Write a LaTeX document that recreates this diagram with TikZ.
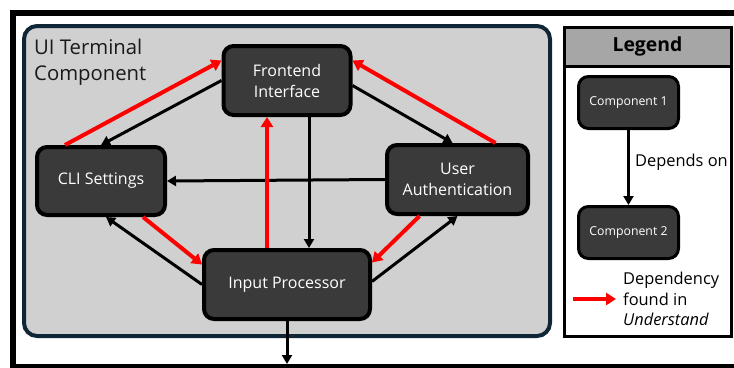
\documentclass[tikz,border=0pt]{standalone}
\usepackage{fontspec}
\setmainfont{Open Sans}
\usetikzlibrary{arrows.meta,positioning}

\definecolor{boxgray}{HTML}{3A3A3A}
\definecolor{panelgray}{HTML}{D0D0D0}
\definecolor{panelline}{HTML}{0F2636}
\definecolor{headgray}{HTML}{A6A6A6}
\definecolor{foundred}{HTML}{FF0000}

\tikzset{
  comp/.style={draw=black, line width=4pt, fill=boxgray, rounded corners=10pt,
    text=white, align=center, font=\fontsize{16}{21}\selectfont, inner sep=0pt, on grid},
  dep/.style={draw=black, line width=3pt, -{Triangle[length=9pt,width=10pt]}},
  found/.style={draw=foundred, line width=4pt, -{Triangle[length=10pt,width=12pt]}},
}

\begin{document}
\begin{tikzpicture}[x=1pt, y=-1pt]
      \useasboundingbox (0,0) rectangle (734,367);
      \clip (0,0) rectangle (734,367);
      \draw[line width=6pt] (12.5,12.5) rectangle (760,367);
      % component panel
      \draw[panelline, line width=4pt, fill=panelgray, rounded corners=13pt] (24,26) rectangle (550,336);
      \node[anchor=north west, align=left, inner sep=0pt, text=black!90,
        font=\fontsize{20.3}{26}\selectfont] (title) at (34,38.5) {UI Terminal\\Component};
      \node[comp, minimum width=166pt, minimum height=69pt] (ip) at (287,284.5) {Input Processor};
      \node[comp, minimum width=127pt, minimum height=69pt, above=204pt of ip] (fe) {Frontend\\Interface};
      \node[comp, minimum width=128pt, minimum height=68pt, above left=103.5pt and 186pt of ip] (cli) {CLI Settings};
      \node[comp, minimum width=141pt, minimum height=69pt, above right=105pt and 170.5pt of ip] (ua) {User\\Authentication};
      \coordinate (out) at (287,364);
      \draw[dep] (fe.west) -- (cli.north);
      \draw[found] ([xshift=-36pt]cli.north) -- ([yshift=20pt]fe.west);
      \draw[dep] ([yshift=-5pt]fe.east) -- ([xshift=-5pt]ua.north);
      \draw[found] ([xshift=38pt]ua.north) -- ([yshift=20pt]fe.east);
      \draw[dep] (ua.west) -- (cli.east);
      \draw[found] ([xshift=-20pt]ip.north) -- ([xshift=-20pt]fe.south);
      \draw[dep] ([xshift=22pt]fe.south) -- ([xshift=22pt]ip.north);
      \draw[found] ([xshift=42pt]cli.south) -- ([yshift=20pt]ip.west);
      \draw[dep] (ip.west) -- ([xshift=5pt]cli.south);
      \draw[found] ([xshift=-38pt]ua.south) -- ([yshift=22pt]ip.east);
      \draw[dep] ([yshift=3pt]ip.east) -- (ua.south);
      \draw[dep] (ip.south) -- (out);
      % legend
      \filldraw[fill=headgray, line width=3pt] (564,27) rectangle (731,66);
      \draw[line width=3pt] (564,27) rectangle (731,336);
      \node[font=\bfseries\fontsize{19.4}{23}\selectfont] (lgd) at (647.5,46.5) {Legend};
      \node[comp, minimum width=100pt, minimum height=52pt, line width=3pt,
        font=\fontsize{12.3}{15}\selectfont] (c1) at (628.5,102.5) {Component 1};
      \node[comp, minimum width=100pt, minimum height=52pt, line width=3pt,
        font=\fontsize{12.3}{15}\selectfont, below=130pt of c1] (c2) {Component 2};
      \draw[dep] (c1) -- (c2);
      \node[anchor=west, inner sep=0pt, font=\fontsize{16.4}{21}\selectfont] (dlab) at (635,162) {Depends on};
      \coordinate (r0) at (573,299);
      \coordinate (r1) at (616,299);
      \draw[found] (r0) -- (r1);
      \node[anchor=west, align=left, inner sep=0pt, font=\fontsize{16.4}{20.5}\selectfont] (flab) at (623,299)
        {Dependency\\found in\\\textit{Understand}};
\end{tikzpicture}
\end{document}
